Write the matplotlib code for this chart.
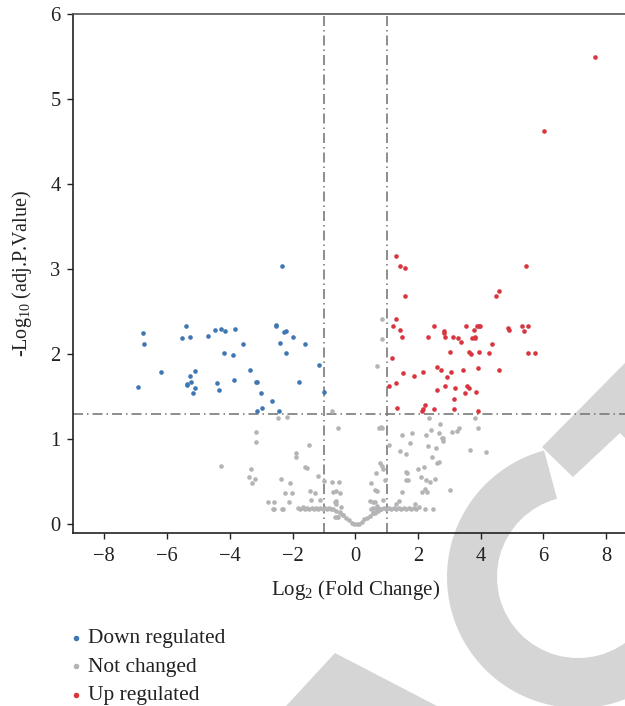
import matplotlib
matplotlib.use('Agg')
import matplotlib.pyplot as plt
from matplotlib.patches import Wedge, Polygon

plt.rcParams['font.family'] = ['Liberation Serif', 'DejaVu Serif']
plt.rcParams['mathtext.fontset'] = 'custom'
plt.rcParams['mathtext.rm'] = 'Liberation Serif'
plt.rcParams['mathtext.default'] = 'regular'

# log2 fold change / -log10 adj p
down_x = [-2.35, -6.78, -6.74, -6.94, -6.21, -5.41, -5.54, -5.28, -5.27, -5.11,
          -5.25, -5.38, -5.36, -5.10, -5.17, -4.69, -4.47, -4.27, -4.15, -3.83,
          -4.19, -3.91, -3.59, -4.42, -4.36, -3.88, -3.35, -3.18, -3.12, -3.02,
          -2.66, -2.96, -3.12, -2.44, -2.54, -2.52, -2.26, -2.22, -1.99, -2.41,
          -2.22, -1.59, -1.79, -1.17, -1.01]
down_y = [3.04, 2.25, 2.12, 1.62, 1.79, 2.33, 2.19, 2.20, 1.75, 1.80,
          1.67, 1.64, 1.65, 1.60, 1.54, 2.21, 2.29, 2.30, 2.27, 2.30,
          2.02, 1.99, 2.12, 1.66, 1.58, 1.70, 1.81, 1.67, 1.67, 1.54,
          1.45, 1.37, 1.33, 1.33, 2.33, 2.34, 2.26, 2.27, 2.20, 2.13,
          2.02, 2.12, 1.67, 1.87, 1.56]

up_x = [7.64, 6.03, 1.31, 1.44, 1.59, 1.57, 1.30, 1.20, 1.43, 1.50,
        1.16, 1.51, 1.07, 1.31, 1.32, 1.87, 2.17, 2.32, 2.50, 2.83,
        2.83, 2.85, 3.11, 3.27, 3.36, 3.52, 3.77, 3.89, 3.94, 3.98,
        3.72, 3.81, 3.83, 3.02, 3.63, 3.68, 3.96, 4.27, 4.36, 4.50,
        4.59, 5.43, 4.88, 4.91, 5.31, 5.52, 5.38, 5.50, 5.72, 2.60,
        2.72, 3.05, 2.94, 3.45, 3.90, 4.59, 2.85, 2.61, 3.17, 3.56,
        3.64, 3.50, 3.85, 3.14, 2.22, 2.16, 2.14, 2.51, 3.14, 3.92]
up_y = [5.50, 4.62, 3.15, 3.04, 3.02, 2.68, 2.42, 2.33, 2.29, 2.20,
        1.96, 1.78, 1.63, 1.66, 1.37, 1.74, 1.79, 2.20, 2.33, 2.28,
        2.25, 2.20, 2.20, 2.19, 2.14, 2.33, 2.29, 2.33, 2.33, 2.33,
        2.19, 2.20, 2.19, 2.03, 2.03, 2.00, 2.03, 2.02, 2.12, 2.68,
        2.75, 3.04, 2.31, 2.29, 2.33, 2.33, 2.27, 2.02, 2.02, 1.85,
        1.81, 1.79, 1.73, 1.81, 1.84, 1.81, 1.63, 1.58, 1.60, 1.63,
        1.61, 1.54, 1.56, 1.47, 1.41, 1.36, 1.33, 1.36, 1.36, 1.33]

ns_x = [0.85, 0.85, 0.70, -0.74, -0.56, -3.16, -2.46, -2.19, 0.75, 0.81,
        0.85, 2.35, 2.69, 2.41, 1.48, 1.81, 2.26, 2.68, 2.79, 3.09,
        3.23, 3.31, 3.82, 3.92,
        -3.16, -4.27, -3.31, -3.40, -3.20, -3.29, -2.36, -2.08, -2.25, -2.01,
        -2.77, -2.60, -2.60, -2.33, -2.11, -1.89, -1.90, -1.47, -1.59, -1.54,
        -1.19, -1.45, -1.27, -1.40, -1.13, -1.68, -0.99, -0.74, -0.52, -0.71,
        -0.60, -0.49, -0.65, -0.60,
        1.07, 0.79, 0.86, 0.89, 0.65, 0.94, 0.50, 0.64, 0.68, 0.46,
        0.57, 0.87, 1.43, 1.62, 1.74, 1.63, 1.66, 1.61, 1.68, 1.50,
        1.40, 1.31, 2.01, 2.08, 2.18, 2.27, 2.37, 2.14, 2.23, 2.29,
        1.91, 2.02, 2.23, 2.48, 2.31, 2.45, 2.57, 2.54, 2.62, 2.67,
        2.77, 2.80, 3.03, 3.65, 4.16, -2.62, -2.30,
        -1.82, -1.75, -1.68, -1.60, -1.53, -1.46, -1.39, -1.32, -1.25, -1.18,
        -1.11, -1.04, -0.97, -0.90, -0.83, -0.76,
        0.50, 0.58, 0.66, 0.74, 0.82, 0.90, 0.98, 1.06, 1.14, 1.22,
        1.30, 1.38, 1.46, 1.54, 1.62, 1.70, 1.78, 1.86, 1.94,
        -0.71, -0.60, -0.49, -0.39, -0.28, -0.20, -0.12, -0.04, 0.04, 0.12,
        0.21, 0.29, 0.38, 0.46, 0.55, 0.63, 0.72, 0.80,
        -0.65, -0.58, -0.60, -0.44, -0.49, -0.39, -0.55, 0.62, 0.68, 0.73, 0.57]
ns_y = [2.42, 2.18, 1.86, 1.33, 1.13, 1.09, 1.25, 1.26, 1.13, 1.14,
        1.13, 1.25, 1.18, 1.11, 1.05, 1.07, 1.05, 1.07, 1.02, 1.09,
        1.10, 1.13, 1.25, 1.13,
        0.97, 0.69, 0.65, 0.56, 0.53, 0.49, 0.53, 0.49, 0.37, 0.37,
        0.26, 0.27, 0.18, 0.18, 0.27, 0.84, 0.79, 0.93, 0.67, 0.66,
        0.57, 0.39, 0.37, 0.29, 0.29, 0.21, 0.51, 0.50, 0.50, 0.38,
        0.39, 0.37, 0.27, 0.28,
        0.94, 0.72, 0.69, 0.65, 0.60, 0.52, 0.49, 0.41, 0.39, 0.28,
        0.27, 0.29, 0.86, 0.83, 0.96, 0.62, 0.60, 0.52, 0.52, 0.38,
        0.28, 0.24, 0.65, 0.56, 0.68, 0.52, 0.50, 0.38, 0.42, 0.38,
        0.24, 0.21, 0.18, 0.18, 0.92, 0.79, 0.90, 0.53, 0.72, 0.74,
        1.02, 0.98, 0.41, 0.87, 0.85, 0.18, 0.18,
        0.19, 0.18, 0.19, 0.18, 0.19, 0.18, 0.19, 0.18, 0.19, 0.18,
        0.19, 0.18, 0.19, 0.18, 0.19, 0.18,
        0.18, 0.19, 0.18, 0.19, 0.18, 0.19, 0.18, 0.19, 0.18, 0.19,
        0.18, 0.19, 0.18, 0.19, 0.18, 0.19, 0.18, 0.19, 0.18,
        0.18, 0.16, 0.13, 0.11, 0.08, 0.05, 0.02, 0.00, 0.00, 0.01,
        0.03, 0.06, 0.08, 0.10, 0.13, 0.14, 0.16, 0.18,
        0.09, 0.09, 0.24, 0.20, 0.15, 0.11, 0.09, 0.26, 0.22, 0.18, 0.14]

fc_cut = 1
p_cut = 1.3

c_down = '#3f77b2'
c_ns = '#b4b4b6'
c_up = '#d9353f'
c_line = '#7a7a7a'

fig = plt.figure(figsize=(6.25, 7.06), dpi=100)

# light grey watermark shapes in the background (pixel coords, y up)
bg = fig.add_axes([0, 0, 1, 1], zorder=0)
bg.set_xlim(0, 625)
bg.set_ylim(0, 706)
bg.axis('off')
wm = '#d5d5d5'
bg.add_patch(Wedge((578, 129), 131, 105, 345, width=50, color=wm, lw=0))
bg.add_patch(Polygon([(542, 259), (625, 343), (625, 268), (620, 273), (573, 229)],
                     closed=True, color=wm, lw=0))
bg.add_patch(Polygon([(335, 53), (286, 0), (437, 0)], closed=True, color=wm, lw=0))

ax = fig.add_axes([73 / 625, 173 / 706, 552 / 625, 519 / 706], zorder=1)
ax.patch.set_alpha(0)

ax.scatter(ns_x, ns_y, s=11, color=c_ns, lw=0, label='Not changed', zorder=3)
ax.scatter(down_x, down_y, s=11, color=c_down, lw=0, label='Down regulated', zorder=3)
ax.scatter(up_x, up_y, s=11, color=c_up, lw=0, label='Up regulated', zorder=3)

dash = (0, (6, 2.4, 0.9, 2.4))
ax.axvline(-fc_cut, color=c_line, lw=1.2, ls=dash, zorder=2)
ax.axvline(fc_cut, color=c_line, lw=1.2, ls=dash, zorder=2)
ax.axhline(p_cut, color=c_line, lw=1.2, ls=dash, zorder=2)

ax.set_xlim(-9, 8.6)
ax.set_ylim(-0.1, 6)
ax.set_xticks([-8, -6, -4, -2, 0, 2, 4, 6, 8])
ax.set_xticklabels(['\u22128', '\u22126', '\u22124', '\u22122', '0', '2', '4', '6', '8'])
ax.set_yticks([0, 1, 2, 3, 4, 5, 6])
ax.tick_params(labelsize=14.8, length=4, width=1, direction='out', pad=5, colors='#222222')
ax.tick_params(axis='x', pad=6)

ax.spines['right'].set_visible(False)
ax.spines['top'].set_color('#555555')
for s in ['left', 'bottom', 'top']:
    ax.spines[s].set_linewidth(1.2)
ax.spines['left'].set_color('#222222')
ax.spines['bottom'].set_color('#222222')

ax.set_xlabel('Log$_2$ (Fold Change)', fontsize=15, color='#222222')
ax.xaxis.set_label_coords(9 / 17.6, -0.087)
ax.set_ylabel('-Log$_{10}$ (adj.P.Value)', fontsize=14.5, color='#222222')
ax.yaxis.set_label_coords(-0.07, 0.5)

h, l = ax.get_legend_handles_labels()
order = [1, 0, 2]
fig.legend([h[i] for i in order], [l[i] for i in order], loc='upper left',
           bbox_to_anchor=(0.09, 0.122), frameon=False, fontsize=15.4,
           markerscale=1.2, handletextpad=0.1, labelspacing=0.4,
           handlelength=1.0, borderaxespad=0, labelcolor='#222222')

fig.savefig('out.png', dpi=100)
